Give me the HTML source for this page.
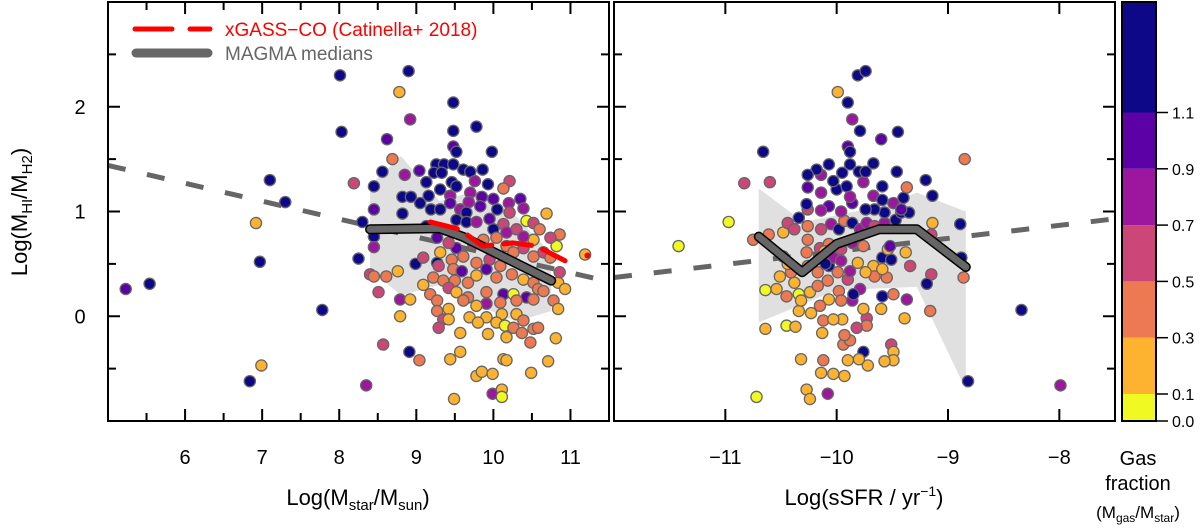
<!DOCTYPE html>
<html><head><meta charset="utf-8">
<style>
html,body{margin:0;padding:0;background:#fff;}
svg{display:block;font-family:"Liberation Sans",sans-serif;}
</style></head>
<body>
<svg id="chart" width="1200" height="531" viewBox="0 0 1200 531" xmlns="http://www.w3.org/2000/svg">
<defs>
<clipPath id="clipL"><rect x="108" y="2" width="501" height="419"/></clipPath>
<clipPath id="clipR"><rect x="614" y="2" width="501" height="419"/></clipPath>
</defs>
<g id="gL"></g>
<g id="gR"></g>
<g id="gC"></g>
<text transform="translate(27,212) rotate(-90)" text-anchor="middle" font-size="22" fill="#000">Log(M<tspan font-size="15" dy="5">HI</tspan><tspan dy="-5">/M</tspan><tspan font-size="15" dy="5">H2</tspan><tspan dy="-5">)</tspan></text>
<text x="358" y="505" text-anchor="middle" font-size="22">Log(M<tspan font-size="15" dy="5">star</tspan><tspan dy="-5">/M</tspan><tspan font-size="15" dy="5">sun</tspan><tspan dy="-5">)</tspan></text>
<text x="864" y="505" text-anchor="middle" font-size="22">Log(sSFR / yr<tspan font-size="14" dy="-9">−1</tspan><tspan dy="9">)</tspan></text>
<text x="1138" y="465" text-anchor="middle" font-size="20">Gas</text>
<text x="1138" y="490" text-anchor="middle" font-size="20">fraction</text>
<text x="1138" y="518" text-anchor="middle" font-size="17">(M<tspan font-size="12" dy="4">gas</tspan><tspan dy="-4">/M</tspan><tspan font-size="12" dy="4">star</tspan><tspan dy="-4">)</tspan></text>
<g>
<line x1="135" y1="29" x2="210" y2="29" stroke="#ff0000" stroke-width="5" stroke-dasharray="37,18" stroke-linecap="round"/>
<text x="225" y="36" font-size="19" fill="#ff0000">xGASS−CO (Catinella+ 2018)</text>
<line x1="136" y1="53" x2="208" y2="53" stroke="#666" stroke-width="9" stroke-linecap="round"/>
<text x="225" y="60" font-size="19" fill="#666">MAGMA medians</text>
</g>
</svg>
<script>
// ---- data ----
const leftX=[8.01,8.90,8.78,9.48,8.92,8.03,9.48,9.78,8.62,9.48,9.52,9.98,8.69,7.10,7.30,8.19,8.56,8.85,9.04,8.45,8.45,8.82,8.93,8.82,8.30,6.92,6.97,5.54,5.23,7.78,6.84,6.99,8.25,8.45,8.45,8.40,8.45,8.61,8.76,8.51,8.79,8.92,8.79,8.99,8.57,8.91,9.04,8.35,9.49,9.44,9.57,9.57,9.78,9.85,9.99,9.99,10.11,10.11,10.13,10.17,10.49,10.71,10.81,10.69,10.86,10.82,11.19,10.43,10.52,
9.26,9.36,9.48,9.23,9.33,9.61,9.70,9.86,9.13,9.46,9.52,9.76,9.93,10.21,10.13,9.31,9.16,9.44,9.70,9.85,10.00,10.35,9.05,9.19,9.31,9.44,9.57,9.68,9.83,10.05,10.20,10.39,10.21,9.65,9.13,9.52,9.65,9.78,9.95,10.13,10.30,10.00,10.17,10.39,10.52,10.60,10.74,
9.27,9.52,9.31,9.42,9.74,9.87,10.04,10.17,10.39,10.26,10.52,10.65,10.74,9.09,9.27,9.46,9.61,9.78,9.95,10.09,9.48,9.59,9.29,9.22,9.35,9.50,9.67,9.78,9.91,10.04,10.24,10.39,10.52,10.58,10.84,10.93,10.86,9.09,9.18,9.42,9.52,9.67,9.91,10.13,10.26,10.43,10.65,10.78,9.27,9.61,9.91,10.09,10.30,10.52,10.84,9.42,9.78,9.27,9.69,9.91,10.11,10.30,9.35,9.42,9.29,9.80,10.04,10.39,10.15,10.26,10.52,9.93,10.17,10.37,10.48,10.58];
const leftY=[2.30,2.34,2.14,2.04,1.88,1.76,1.77,1.81,1.69,1.62,1.57,1.57,1.50,1.30,1.09,1.27,1.38,1.35,1.39,1.24,1.02,1.14,1.14,0.98,0.90,0.89,0.52,0.31,0.26,0.06,-0.62,-0.47,0.55,0.76,0.66,0.40,0.38,0.38,0.43,0.23,0.16,0.16,0.00,0.50,-0.27,-0.34,-0.42,-0.66,-0.79,-0.41,-0.34,-0.16,-0.57,-0.53,-0.55,-0.74,-0.70,-0.77,-0.41,-0.42,-0.54,-0.43,-0.21,0.98,0.78,0.67,0.59,0.91,0.73,
1.45,1.45,1.45,1.37,1.37,1.40,1.38,1.40,1.28,1.28,1.24,1.29,1.26,1.29,1.22,1.21,1.15,1.15,1.18,1.14,1.12,1.12,1.08,1.02,1.02,1.08,1.02,1.09,1.05,1.02,1.08,1.03,0.99,0.99,0.86,0.92,0.90,0.90,0.93,0.88,0.83,0.83,0.80,0.76,0.89,0.83,0.75,
0.75,0.65,0.61,0.70,0.69,0.73,0.75,0.67,0.65,0.61,0.57,0.61,0.56,0.56,0.51,0.54,0.57,0.51,0.54,0.48,0.45,0.43,0.48,0.37,0.34,0.34,0.32,0.39,0.45,0.37,0.40,0.35,0.32,0.26,0.32,0.26,0.42,0.30,0.21,0.27,0.23,0.18,0.23,0.21,0.21,0.18,0.24,0.15,0.15,0.15,0.12,0.13,0.15,0.16,0.07,0.07,0.10,0.05,-0.01,-0.01,0.02,0.02,-0.03,-0.03,-0.11,-0.06,-0.06,-0.04,-0.09,-0.11,-0.12,-0.17,-0.20,-0.16,-0.25,-0.11];
const leftGas=[1.3,1.3,0.2,1.3,0.8,1.3,1.3,1.3,1.0,1.0,1.3,1.3,0.4,1.3,1.3,0.6,1.3,0.8,1.0,1.3,1.0,1.3,1.3,1.3,1.3,0.2,1.3,1.3,1.0,1.3,1.3,0.2,1.3,1.3,0.8,0.6,0.4,0.4,0.2,0.6,0.8,0.2,0.2,1.3,0.6,1.3,0.4,0.8,0.2,0.2,0.2,0.2,0.2,0.2,0.2,0.8,0.2,0.05,0.2,0.2,0.2,0.2,0.2,0.2,0.4,0.05,0.2,0.05,0.2,
1.3,1.3,1.3,1.3,1.3,1.3,1.3,1.3,1.3,1.3,1.3,0.8,1.3,0.6,0.4,1.3,1.3,0.8,0.8,1.0,1.0,1.0,1.3,1.3,1.3,1.0,0.8,0.8,1.0,1.3,0.8,0.8,0.6,1.3,1.3,1.3,1.3,0.8,1.0,0.6,0.6,1.3,0.8,0.8,0.6,0.4,0.6,
1.0,1.0,0.2,0.6,0.6,0.4,0.4,0.4,0.6,0.4,0.4,0.6,0.4,0.6,1.3,0.4,0.4,0.4,0.6,0.4,0.4,1.0,0.6,0.4,0.4,0.4,0.4,0.2,1.0,0.4,0.4,0.2,0.4,0.4,0.2,0.2,0.6,0.2,0.4,0.6,0.2,0.4,0.4,1.0,0.05,1.0,0.4,0.4,0.4,0.4,0.8,0.4,0.4,0.4,0.2,0.2,0.2,0.4,0.2,0.2,0.2,0.2,0.6,0.2,0.6,0.2,0.2,0.4,0.05,0.4,0.4,0.2,0.2,0.4,0.4,0.4];

const rightX=[-9.81,-9.74,-9.99,-9.90,-9.86,-9.79,-9.45,-9.60,-9.90,-9.88,-10.66,-8.85,-10.83,-10.60,-10.97,-11.42,-9.20,-9.14,-9.37,-8.89,-9.14,-9.15,-8.88,-8.86,-9.15,-9.19,-9.16,-8.34,-8.82,-7.99,-9.34,-9.37,-9.39,-9.49,-9.59,-9.60,-9.73,-9.73,-9.76,-9.51,-9.49,-9.49,-9.57,-9.72,-9.80,-9.90,-10.12,-10.32,-10.14,-10.03,-9.93,-10.27,-10.24,-10.08,-10.72,-10.64,-10.45,-10.37,-10.34,-10.23,-10.13,-10.12,-9.94,-9.88,-9.93,-9.95,-10.03,-9.82,-9.76,
-10.64,-10.54,-10.45,-10.51,-10.38,-10.34,-10.32,-10.24,-10.17,-10.08,-9.98,-10.07,-10.15,-9.96,-9.86,-9.79,-9.85,-9.90,-9.99,-10.07,-10.17,-10.26,-10.41,-10.44,-10.48,-10.27,-10.15,-10.07,-9.96,-9.86,-9.76,-9.67,-9.66,-9.55,-9.74,-9.59,-9.59,-9.51,-9.54,-9.38,-9.52,-10.75,-10.61,-10.48,-10.44,-10.38,-10.34,-10.26,-10.26,-10.14,-10.05,-9.98,-9.93,-9.86,-9.79,-9.73,-9.66,-9.57,-9.47,-9.42,-9.35,-9.49,-9.40,-9.42,-9.57,-9.66,-9.74,-9.67,-9.59,-9.59,-9.86,-9.96,-10.07,-10.14,-10.26,-10.27,-10.14,-10.26,-10.00,-9.91,-9.76,-9.88,-10.03,-10.14,-10.18,-10.26,-10.07,-9.95,-9.88,-9.80,-9.67,-9.46,-9.74,-10.03,-10.10,-9.96,-9.88,-9.81,-10.11];
const rightY=[2.30,2.34,2.14,2.04,1.88,1.77,1.76,1.69,1.62,1.57,1.57,1.50,1.27,1.28,0.90,0.67,1.30,1.15,1.23,0.88,0.89,0.78,0.56,0.37,0.40,0.31,0.05,0.06,-0.62,-0.66,0.48,0.16,-0.02,0.21,0.19,0.07,-0.02,-0.09,-0.34,-0.27,-0.34,-0.42,-0.43,-0.47,-0.41,-0.42,-0.42,-0.41,-0.54,-0.55,-0.57,-0.70,-0.79,-0.74,-0.77,-0.12,-0.09,-0.10,0.05,0.03,-0.16,-0.04,-0.27,-0.23,-0.18,-0.03,-0.03,-0.11,0.07,
0.25,0.26,0.19,0.38,0.32,0.21,0.15,0.23,0.29,0.34,0.24,0.16,0.10,0.15,0.15,0.26,0.21,0.35,0.42,0.48,0.42,0.48,0.42,0.50,0.57,0.61,0.65,0.69,0.64,0.70,0.67,0.48,0.38,0.37,0.42,0.45,0.56,0.54,0.64,0.61,0.67,0.73,0.78,0.80,0.89,0.83,0.94,0.86,0.73,0.83,0.88,0.83,0.91,0.89,0.83,0.89,0.86,0.89,0.92,0.99,0.99,1.08,1.13,1.02,0.99,1.02,1.02,1.15,1.11,1.24,1.08,1.00,1.05,1.01,1.02,1.07,1.18,1.23,1.21,1.24,1.28,1.14,1.29,1.35,1.40,1.35,1.45,1.37,1.45,1.38,1.46,1.38,1.38,0.56,0.50,0.53,0.43,0.51,0.62];
const rightGas=[1.3,1.3,0.2,1.3,0.8,1.3,1.3,1.0,1.0,1.3,1.3,0.4,0.6,0.6,0.05,0.05,1.3,1.3,0.4,1.3,0.2,0.6,1.3,0.4,0.6,1.3,0.4,1.3,1.3,0.8,0.6,0.8,0.2,0.4,1.3,0.2,0.6,0.4,1.3,0.6,0.2,0.2,0.2,0.2,0.2,0.2,0.4,0.2,0.2,0.2,0.2,0.2,0.2,0.8,0.05,0.2,0.05,0.2,0.2,0.2,0.2,0.4,0.4,0.4,0.4,0.2,0.2,0.6,0.2,
0.05,0.2,0.4,0.2,0.2,0.05,0.2,0.2,0.4,0.4,0.4,0.2,0.4,0.4,0.8,0.8,1.3,0.6,0.4,1.3,0.4,0.4,0.4,0.2,0.2,0.4,0.6,0.4,0.6,0.8,0.4,0.2,0.4,0.4,0.2,0.2,1.3,1.3,0.2,0.2,1.0,0.4,0.4,0.2,0.6,0.6,1.3,0.4,0.4,0.6,0.8,1.3,0.4,1.3,0.8,0.8,0.6,0.8,1.3,1.3,1.3,0.8,1.3,1.0,1.3,1.3,1.3,0.8,1.3,1.3,1.0,0.8,1.0,0.8,0.6,1.3,0.8,1.0,1.3,1.3,0.8,0.8,1.3,0.8,1.3,1.3,1.3,1.3,1.3,1.3,1.3,1.3,1.3,0.8,1.3,0.8,0.8,0.2,0.2];

const leftMedX=[8.40,9.30,9.60,10.75];
const leftMedY=[0.83,0.84,0.76,0.34];
const xgassX=[9.18,9.56,9.86,10.25,10.56,10.93];
const xgassY=[0.90,0.83,0.67,0.70,0.67,0.53];
const rightMedX=[-10.70,-10.31,-10.00,-9.62,-9.28,-8.84];
const rightMedY=[0.76,0.42,0.69,0.83,0.83,0.47];
const leftShadeX=[8.40,8.80,9.30,9.80,10.30,10.75,10.75,10.30,9.80,9.30,8.80,8.40];
const leftShadeY=[1.25,1.53,1.10,1.20,0.95,0.60,0.05,-0.05,0.10,0.30,0.20,0.45];
const rightShadeX=[-10.70,-10.30,-9.60,-9.28,-8.84,-8.84,-9.28,-10.00,-10.70];
const rightShadeY=[1.22,0.90,1.05,1.18,1.00,-0.70,0.28,0.25,-0.06];
const leftFitX=[5.0,11.5];
const leftFitY=[1.44,0.33];
const rightFitX=[-12.0,-7.5];
const rightFitY=[0.37,0.93];
const leftTicks=[6,7,8,9,10,11];
const rightTicks=[-11,-10,-9,-8];
const yTicks=[0,1,2];
const cbBounds=[0.0,0.1,0.3,0.5,0.7,0.9,1.1,1.6];
const cbColors=["#f0f921","#fdb32f","#ed7953","#cc4778","#9c179e","#5c01a6","#0d0887"];
const cbLabels=["0.0","0.1","0.3","0.5","0.7","0.9","1.1"];

// ---- axes ----
const NS="http://www.w3.org/2000/svg";
const Y0=2,Y1=421;
function sy(v){return Y1-(v+1)/4*(Y1-Y0);}
function sxL(v){return 108+(v-5)/6.5*501;}
function sxR(v){return 614+(v+12)/4.5*501;}
function mk(tag,attrs,parent){const e=document.createElementNS(NS,tag);for(const k in attrs)e.setAttribute(k,attrs[k]);parent.appendChild(e);return e;}
function color(g){for(let i=0;i<cbColors.length;i++){if(g<cbBounds[i+1])return cbColors[i];}return cbColors[cbColors.length-1];}

function panel(g,sx,x0,clip,xs,ys,gas,medX,medY,shX,shY,fitX,fitY,ticks,minor,labels,pfx){
  const c=mk('g',{'clip-path':'url(#'+clip+')'},g);
  let pts=shX.map((v,i)=>sx(v)+','+sy(shY[i])).join(' ');
  const sh=mk('polygon',{points:pts,fill:'#e0e0e0'},c);
  
  
  const fit=mk('line',{x1:sx(fitX[0]),y1:sy(fitY[0]),x2:sx(fitX[1]),y2:sy(fitY[1]),stroke:'#666','stroke-width':5,'stroke-dasharray':'18,22'},c);
  
  
  for(let i=0;i<xs.length;i++){
    const d=mk('circle',{cx:sx(xs[i]),cy:sy(ys[i]),r:5.6,fill:color(gas[i]),stroke:'#666','stroke-width':1.3},c);
    
    
  }
  const mp=medX.map((v,i)=>sx(v)+','+sy(medY[i])).join(' ');
  const m1=mk('polyline',{points:mp,fill:'none',stroke:'#000','stroke-width':10,'stroke-linejoin':'round','stroke-linecap':'round'},c);
  
  
  const m2=mk('polyline',{points:mp,fill:'none',stroke:'#666','stroke-width':7,'stroke-linejoin':'round','stroke-linecap':'round'},c);
  
  
  const fr=mk('rect',{x:x0,y:Y0,width:501,height:Y1-Y0,fill:'none',stroke:'#000','stroke-width':2},g);
  
  
  ticks.forEach(t=>{
    const x=sx(t);
    mk('line',{x1:x,y1:Y1,x2:x,y2:Y1-12,stroke:'#000','stroke-width':2},g);
    mk('line',{x1:x,y1:Y0,x2:x,y2:Y0+12,stroke:'#000','stroke-width':2},g);
    if(labels){const tl=mk('text',{x:x,y:464,'text-anchor':'middle','font-size':20},g);tl.textContent=(t<0?'−'+(-t):t);
      
      }
    if(minor){const xm=sx(t-0.5);
      mk('line',{x1:xm,y1:Y1,x2:xm,y2:Y1-8,stroke:'#000','stroke-width':2},g);
      mk('line',{x1:xm,y1:Y0,x2:xm,y2:Y0+8,stroke:'#000','stroke-width':2},g);}
  });
  if(minor){const xm=sx(11.5);}
  for(let v=-0.5;v<=2.5;v+=0.5){
    const y=sy(v),len=(v%1===0)?12:8;
    mk('line',{x1:x0,y1:y,x2:x0+len,y2:y,stroke:'#000','stroke-width':2},g);
    mk('line',{x1:x0+501,y1:y,x2:x0+501-len,y2:y,stroke:'#000','stroke-width':2},g);
  }
}
const gL=document.getElementById('gL'),gR=document.getElementById('gR'),gC=document.getElementById('gC');
panel(gL,sxL,108,'clipL',leftX,leftY,leftGas,leftMedX,leftMedY,leftShadeX,leftShadeY,leftFitX,leftFitY,leftTicks,true,true,'left');
// red xGASS line (left only)
const xg=mk('polyline',{points:xgassX.map((v,i)=>sxL(v)+','+sy(xgassY[i])).join(' '),fill:'none',stroke:'#ff0000','stroke-width':5,'stroke-dasharray':'28,12','stroke-linecap':'round'},gL);


const rd=mk('circle',{cx:sxL(11.22),cy:sy(0.58),r:3,fill:'#ff0000'},gL);


yTicks.forEach(t=>{const tl=mk('text',{x:80,y:sy(t)+7,'text-anchor':'middle','font-size':20},gL);tl.textContent=t;
  
  });
panel(gR,sxR,614,'clipR',rightX,rightY,rightGas,rightMedX,rightMedY,rightShadeX,rightShadeY,rightFitX,rightFitY,rightTicks,false,true,'right');

// colorbar
const cbTop=2,cbBot=421;
function cy(v){return cbBot-(v<=0.1? v/0.1*27 : 27+(v-0.1)/0.2*56.3);}
for(let i=0;i<cbColors.length;i++){
  const top=i===cbColors.length-1?cbTop:cy(cbBounds[i+1]);
  const r=mk('rect',{x:1122,y:top,width:34,height:cy(cbBounds[i])-top,fill:cbColors[i]},gC);
  
  
}
mk('rect',{x:1122,y:cbTop,width:34,height:cbBot-cbTop,fill:'none',stroke:'#000','stroke-width':2},gC);
cbLabels.forEach((l,i)=>{const y=cy(cbBounds[i]);
  mk('line',{x1:1156,y1:y,x2:1168,y2:y,stroke:'#000','stroke-width':1.5},gC);
  const t=mk('text',{x:1172,y:y+6,'font-size':16},gC);t.textContent=l;
  
  });
</script>
</body></html>
